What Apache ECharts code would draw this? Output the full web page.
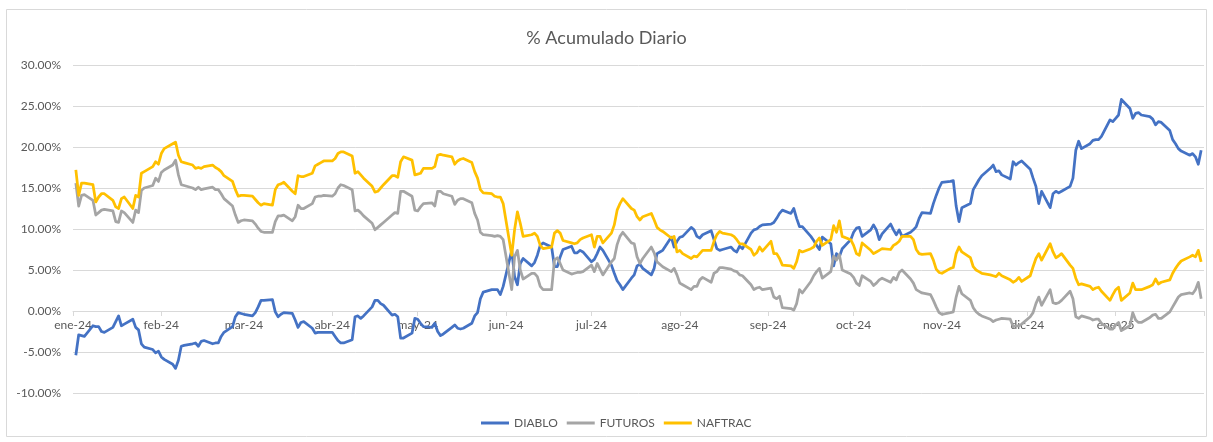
<!DOCTYPE html>
<html><head><meta charset="utf-8">
<script src="https://cdn.jsdelivr.net/npm/echarts/dist/echarts.min.js"></script>
<style>html,body{margin:0;padding:0;background:#fff}#c{width:1213px;height:442px}</style>
</head><body><div id="c"></div>
<script>
const chartTitle = '% Acumulado Diario';
const startDate = '2024-01-02';
const endDate = '2025-01-31';
const axisStart = '2024-01-01';
const axisEnd = '2025-02-01';
const seriesNames = ['DIABLO', 'FUTUROS', 'NAFTRAC'];
const monthLabels = ['ene','feb','mar','abr','may','jun','jul','ago','sep','oct','nov','dic'];
const yTicks = [-10, -5, 0, 5, 10, 15, 20, 25, 30];

// one value per weekday, Jan 2 2024 .. Jan 31 2025 (% cumulative)
const diablo = [
 -5.4,-2.9,-3.0,-3.1,-1.8,-1.9,-1.9,-2.5,-2.6,-2.0,-1.3,-0.6,-1.8,-1.6,-1.0,-2.0,-2.3,-4.0,-4.4,-4.7,-5.1,-4.9,
 -5.6,-5.9,-6.5,-7.0,-6.0,-4.3,-4.2,-4.0,-3.9,-4.3,-3.7,-3.6,-4.0,-3.9,-3.9,-3.1,-2.6,-1.9,-0.7,-0.2,-0.3,
 -0.4,-0.6,-0.2,0.5,1.3,1.3,1.4,-0.1,-0.7,-0.4,-0.2,-0.3,-1.1,-2.0,-1.4,-1.3,-2.1,-2.7,-2.6,-2.6,-2.6,
 -2.6,-3.1,-3.6,-3.9,-3.9,-3.5,-0.7,-0.6,-0.9,-0.6,0.5,1.3,1.3,0.9,0.7,-0.5,-0.4,-0.7,-3.3,-3.3,-2.7,-0.9,
 -1.0,-1.5,-1.9,-2.0,-1.5,-2.5,-3.0,-2.8,-2.0,-1.7,-2.1,-2.2,-2.1,-1.5,-0.6,-0.2,1.5,2.3,2.6,2.6,2.6,2.0,3.0,
 7.4,4.2,3.2,5.8,6.4,5.5,5.9,6.8,8.0,8.3,7.8,5.4,5.4,6.6,7.5,7.9,7.1,7.1,7.4,7.2,
 6.0,6.3,7.0,7.8,7.4,5.6,4.6,3.7,3.2,2.6,4.0,4.4,5.5,5.7,5.2,4.4,5.2,7.0,7.2,7.4,9.0,7.8,8.5,
 9.0,9.1,10.2,9.9,9.1,8.9,9.3,9.8,8.7,7.6,7.4,7.5,7.8,7.4,7.2,7.9,7.6,9.5,9.9,10.0,10.3,10.5,
 10.6,10.8,11.3,11.9,12.3,11.9,12.5,11.3,10.3,10.3,9.1,8.6,8.0,7.5,9.0,8.2,5.5,7.0,6.6,7.6,8.7,
 9.6,10.1,10.2,9.1,9.9,10.5,9.9,8.7,9.4,10.6,9.9,9.3,9.9,9.1,9.6,9.9,10.3,11.3,12.0,11.9,13.1,14.1,15.0,
 15.7,15.8,15.9,12.8,10.9,12.6,13.1,14.8,15.4,16.0,16.5,17.4,17.8,17.0,17.1,16.6,16.1,18.2,17.8,18.1,18.3,
 17.3,16.2,15.2,13.1,14.6,12.6,14.3,14.6,14.4,14.6,15.2,16.2,19.6,20.7,19.8,20.4,20.8,20.9,20.9,21.3,23.3,23.1,
 23.5,23.9,25.8,24.7,23.5,24.1,24.2,23.9,23.7,23.4,22.7,23.1,23.0,22.0,20.9,20.4,19.8,19.5,19.0,19.2,18.8,17.9,19.6
];
const futuros = [
 15.6,12.8,14.1,14.2,13.5,11.7,12.0,12.3,12.4,12.2,10.9,10.8,12.2,12.0,10.8,12.3,12.0,14.7,15.0,15.3,16.2,15.8,
 16.9,17.2,17.8,18.4,16.6,15.4,15.3,15.0,14.8,15.1,14.8,14.9,15.1,14.8,14.8,14.3,13.7,12.8,11.7,10.8,11.0,
 11.1,11.0,10.6,10.1,9.7,9.6,9.6,10.9,11.6,11.6,11.7,11.0,11.5,12.9,12.5,12.5,13.1,13.9,14.0,14.0,14.1,
 14.0,14.3,15.0,15.4,15.3,14.8,12.2,12.3,12.0,11.6,10.7,9.9,10.2,10.5,10.8,11.7,12.0,11.9,14.6,14.6,14.0,12.3,
 12.2,12.7,13.1,13.2,12.8,14.6,14.6,14.3,14.0,13.0,13.5,13.7,13.7,13.2,11.9,11.1,9.6,9.3,9.2,9.1,9.2,9.1,8.7,
 2.6,6.6,7.4,5.0,3.9,4.6,4.6,4.2,3.0,2.6,2.6,6.2,6.5,5.8,5.0,4.5,4.6,4.7,4.7,4.8,
 5.6,4.8,5.8,5.1,4.4,6.0,6.4,8.1,9.1,9.6,8.3,8.2,6.6,5.8,6.4,7.8,7.1,6.0,5.7,5.4,4.8,5.2,4.4,
 3.4,3.2,2.6,3.0,3.0,3.8,4.1,3.5,4.6,4.8,5.3,5.3,5.1,4.9,4.8,4.4,4.3,3.2,2.6,2.8,2.9,2.6,
 2.8,1.7,1.5,1.8,0.4,0.3,0.1,0.9,2.6,2.2,3.6,4.3,4.8,5.2,4.0,4.8,6.7,6.2,6.9,5.0,4.5,
 4.1,3.4,3.1,4.3,3.6,3.1,3.4,3.8,4.0,3.5,4.1,3.8,4.7,5.0,3.9,3.4,2.6,2.4,2.2,2.0,1.3,0.5,-0.2,
 -0.4,-0.2,-0.1,1.7,3.0,2.1,1.3,0.4,-0.1,-0.4,-0.6,-1.0,-1.3,-1.1,-1.0,-0.9,-1.0,-1.9,-1.8,-1.8,-1.6,
 -0.7,-0.2,0.9,1.7,0.7,2.6,1.0,0.9,1.0,1.3,2.4,1.5,-0.7,-0.9,-0.6,-0.9,-1.1,-1.0,-1.0,-1.5,-2.2,-2.2,
 -1.7,-1.4,-2.4,-1.8,-0.2,-1.1,-1.4,-1.4,-0.8,-0.5,-0.4,-0.9,-0.9,-0.1,0.5,1.1,1.7,2.0,2.2,2.1,2.6,3.5,1.5
];
const naftrac = [
 17.2,14.1,15.6,15.6,15.4,13.3,13.9,14.3,14.3,13.5,12.7,12.5,13.7,13.9,12.5,14.1,13.9,16.8,17.0,17.6,18.2,17.9,
 19.2,19.8,20.4,20.6,19.0,18.2,18.1,17.8,17.4,17.5,17.4,17.6,17.8,17.5,17.3,17.0,16.5,15.8,14.8,14.0,14.1,
 14.1,14.0,13.6,13.2,12.9,13.1,12.9,14.8,15.4,15.5,15.7,14.6,14.3,16.5,16.4,16.4,16.8,17.7,17.9,18.1,18.3,
 18.3,18.6,19.2,19.4,19.4,18.9,16.8,17.0,16.6,16.2,15.2,14.5,14.6,15.0,15.4,16.5,16.5,16.3,18.2,18.8,18.4,16.6,
 16.7,16.8,17.4,17.4,17.6,19.0,19.1,19.0,18.8,17.9,18.3,18.5,18.6,18.1,17.0,16.2,14.8,14.4,14.3,14.0,13.9,13.9,13.1,
 6.8,9.9,12.1,10.7,9.1,9.3,9.5,9.1,8.0,7.6,7.8,9.5,9.8,9.5,8.6,8.3,8.2,8.3,8.7,8.9,
 9.3,7.8,9.1,9.1,8.3,9.5,10.5,12.3,13.1,13.7,12.5,12.3,11.5,11.1,11.5,11.9,11.1,10.2,9.9,9.7,8.9,9.1,7.2,
 7.4,7.0,6.4,6.7,6.6,7.0,7.4,7.4,8.5,9.3,9.7,9.5,9.3,9.1,8.7,8.2,8.2,7.5,6.8,7.1,7.8,7.3,
 8.5,7.0,7.0,6.4,5.6,5.5,5.2,6.0,7.4,7.2,7.6,7.8,8.5,8.9,8.0,8.7,10.4,9.6,11.0,9.1,8.7,
 8.0,7.0,6.8,8.3,7.4,7.0,7.2,7.4,7.6,7.5,8.0,8.2,8.5,9.1,9.1,8.7,7.5,7.0,6.9,7.0,6.2,5.1,4.7,
 4.6,5.2,5.3,7.0,7.8,7.2,6.5,5.4,5.0,4.8,4.6,4.4,4.3,4.2,4.6,4.3,3.8,3.5,3.7,4.1,3.6,
 4.3,5.4,6.4,7.0,6.2,8.2,7.2,6.5,6.7,7.0,5.6,5.2,4.0,3.2,3.3,3.0,2.6,2.8,2.9,2.4,1.3,2.0,
 2.6,2.9,1.3,2.2,3.4,2.6,2.6,2.6,3.0,3.2,3.9,3.3,3.5,3.8,4.6,5.2,5.7,6.1,6.6,6.8,6.6,7.4,6.0
];
const seriesColors = ['#4472C4', '#A5A5A5', '#FFC000'];

function pad(n) { return (n < 10 ? '0' : '') + n; }
function weekdays(s, e) {
  const out = [];
  const d = new Date(s + 'T00:00:00');
  const end = new Date(e + 'T00:00:00');
  while (d <= end) {
    const w = d.getDay();
    if (w !== 0 && w !== 6) out.push(d.getFullYear() + '-' + pad(d.getMonth() + 1) + '-' + pad(d.getDate()));
    d.setDate(d.getDate() + 1);
  }
  return out;
}
const dates = weekdays(startDate, endDate);
const values = [diablo, futuros, naftrac];
const xMin = new Date(axisStart + 'T00:00:00').getTime();
const xMax = new Date(axisEnd + 'T00:00:00').getTime();

const gridTop = 65, gridBottom = 49, plotH = 442 - gridTop - gridBottom;
const yMin = yTicks[0], yMax = yTicks[yTicks.length - 1];
// shift the date axis up so it sits on the 0% line
const zeroOffset = -plotH * (0 - yMin) / (yMax - yMin);

const font = 'Lato, "Open Sans", sans-serif';
const chart = echarts.init(document.getElementById('c'), null, { renderer: 'canvas' });
chart.setOption({
  animation: false,
  backgroundColor: '#ffffff',
  textStyle: { fontFamily: font },
  graphic: [{
    type: 'rect', shape: { x: 6.5, y: 9.5, width: 1200, height: 427 },
    style: { fill: 'none', stroke: '#d9d9d9', lineWidth: 1 }, silent: true, z: -1
  }],
  title: {
    text: chartTitle, left: 'center', top: 24,
    textStyle: { fontFamily: font, fontSize: 18, fontWeight: 'normal', color: '#595959' }
  },
  legend: {
    data: seriesNames, left: 476, top: 412, itemGap: 9,
    icon: 'rect', itemWidth: 28, itemHeight: 3,
    textStyle: { fontFamily: font, fontSize: 12, color: '#595959' }
  },
  grid: { left: 73, right: 9, top: gridTop, bottom: gridBottom, containLabel: false, outerBoundsMode: 'none' },
  xAxis: {
    type: 'time', min: xMin, max: xMax, offset: zeroOffset,
    minInterval: 28 * 864e5, maxInterval: 31 * 864e5,
    axisLine: { onZero: false, lineStyle: { color: '#d9d9d9', width: 1 } },
    axisTick: { show: true, length: 5, lineStyle: { color: '#d9d9d9' } },
    splitLine: { show: false },
    axisLabel: {
      color: '#595959', fontSize: 12, fontFamily: font, margin: 8,
      showMinLabel: true, hideOverlap: false,
      formatter: function (v) {
        const d = new Date(v);
        if (v >= xMax || d.getDate() !== 1) return '';
        return monthLabels[d.getMonth()] + '-' + String(d.getFullYear()).slice(2);
      }
    }
  },
  yAxis: {
    type: 'value', min: yMin, max: yMax, interval: 5,
    axisLine: { show: false }, axisTick: { show: false },
    splitLine: { lineStyle: { color: '#d9d9d9', width: 1 } },
    axisLabel: { color: '#595959', fontSize: 12, fontFamily: font, margin: 12,
      formatter: function (v) { return v.toFixed(2) + '%'; } }
  },
  series: seriesNames.map(function (name, i) {
    return {
      name: name, type: 'line', showSymbol: false, symbol: 'none',
      data: dates.map(function (d, j) { return [d, values[i][j]]; }),
      lineStyle: { color: seriesColors[i], width: 2.75, join: 'round' },
      itemStyle: { color: seriesColors[i] }
    };
  })
});
</script>
</body></html>
